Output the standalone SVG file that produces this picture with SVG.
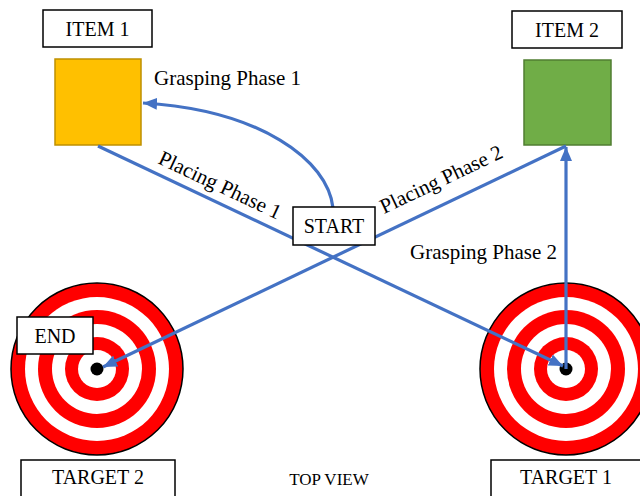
<svg xmlns="http://www.w3.org/2000/svg" width="640" height="496" viewBox="0 0 640 496">
<style>
  .lbl { fill: #fff; stroke: #000; stroke-width: 1.5; }
  .t { font-family: "Liberation Serif", "Times New Roman", serif; font-size: 20px; fill: #000; }
  .big { font-size: 21px; }
  .small { font-size: 17px; }
  .tc { text-anchor: middle; }
  .conn { fill: none; stroke: #4472C4; stroke-width: 3.2; }
  .red { fill: #FF0000; }
  .wht { fill: #FFFFFF; }
</style>
<defs>
  <marker id="ah" markerUnits="userSpaceOnUse" markerWidth="14" markerHeight="12" refX="14" refY="6" orient="auto">
    <path d="M0,0 L14,6 L0,12 Z" fill="#4472C4"/>
  </marker>
</defs>
<rect width="640" height="496" fill="#fff"/>

<g id="target2">
  <circle cx="97" cy="369" r="86" class="red" stroke="#000" stroke-width="1.5"/>
  <circle cx="97" cy="369" r="72" class="wht"/>
  <circle cx="97" cy="369" r="59" class="red"/>
  <circle cx="97" cy="369" r="45" class="wht"/>
  <circle cx="97" cy="369" r="32" class="red"/>
  <circle cx="97" cy="369" r="19" class="wht"/>
  <circle cx="97" cy="369" r="6.5" fill="#000"/>
</g>
<g id="target1">
  <circle cx="566" cy="369" r="86" class="red" stroke="#000" stroke-width="1.5"/>
  <circle cx="566" cy="369" r="72" class="wht"/>
  <circle cx="566" cy="369" r="59" class="red"/>
  <circle cx="566" cy="369" r="45" class="wht"/>
  <circle cx="566" cy="369" r="32" class="red"/>
  <circle cx="566" cy="369" r="19" class="wht"/>
  <circle cx="566" cy="369" r="6.5" fill="#000"/>
</g>

<g id="item1">
  <rect x="55" y="59" width="86" height="86" fill="#FFC000" stroke="#BF9000" stroke-width="1.5"/>
</g>
<g id="item2">
  <rect x="524" y="60" width="87" height="85" fill="#70AD47" stroke="#507E32" stroke-width="1.5"/>
</g>

<g id="connectors">
  <path class="conn" d="M333,208 C328,160 260,110 143,103" marker-end="url(#ah)"/>
  <line class="conn" x1="98" y1="146" x2="563" y2="366" marker-end="url(#ah)"/>
  <line class="conn" x1="566" y1="146" x2="103" y2="367" marker-end="url(#ah)"/>
  <line class="conn" x1="566" y1="369" x2="566" y2="147" marker-end="url(#ah)"/>
</g>

<g id="item1-label">
  <rect class="lbl" x="43" y="10" width="109" height="37"/>
  <text class="t tc" x="97.5" y="36">ITEM 1</text>
</g>
<g id="item2-label">
  <rect class="lbl" x="512" y="11" width="110" height="37"/>
  <text class="t tc" x="567" y="37">ITEM 2</text>
</g>
<g id="start">
  <rect class="lbl" x="293" y="207" width="82" height="38"/>
  <text class="t tc" x="334" y="233">START</text>
</g>
<g id="end">
  <rect class="lbl" x="17" y="317" width="76" height="37"/>
  <text class="t tc" x="55" y="343">END</text>
</g>
<g id="target2-label">
  <rect class="lbl" x="21" y="460" width="154" height="45"/>
  <text class="t tc" x="98" y="484">TARGET 2</text>
</g>
<g id="target1-label">
  <rect class="lbl" x="491" y="460" width="160" height="45"/>
  <text class="t tc" x="566" y="484">TARGET 1</text>
</g>

<g id="labels">
  <text class="t big" x="154" y="85">Grasping Phase 1</text>
  <text class="t big" x="410" y="259">Grasping Phase 2</text>
  <text class="t big" transform="translate(157,163) rotate(25.2)">Placing Phase 1</text>
  <text class="t big" transform="translate(384,214) rotate(-25.4)">Placing Phase 2</text>
  <text class="t tc small" x="329" y="485">TOP VIEW</text>
</g>
</svg>
